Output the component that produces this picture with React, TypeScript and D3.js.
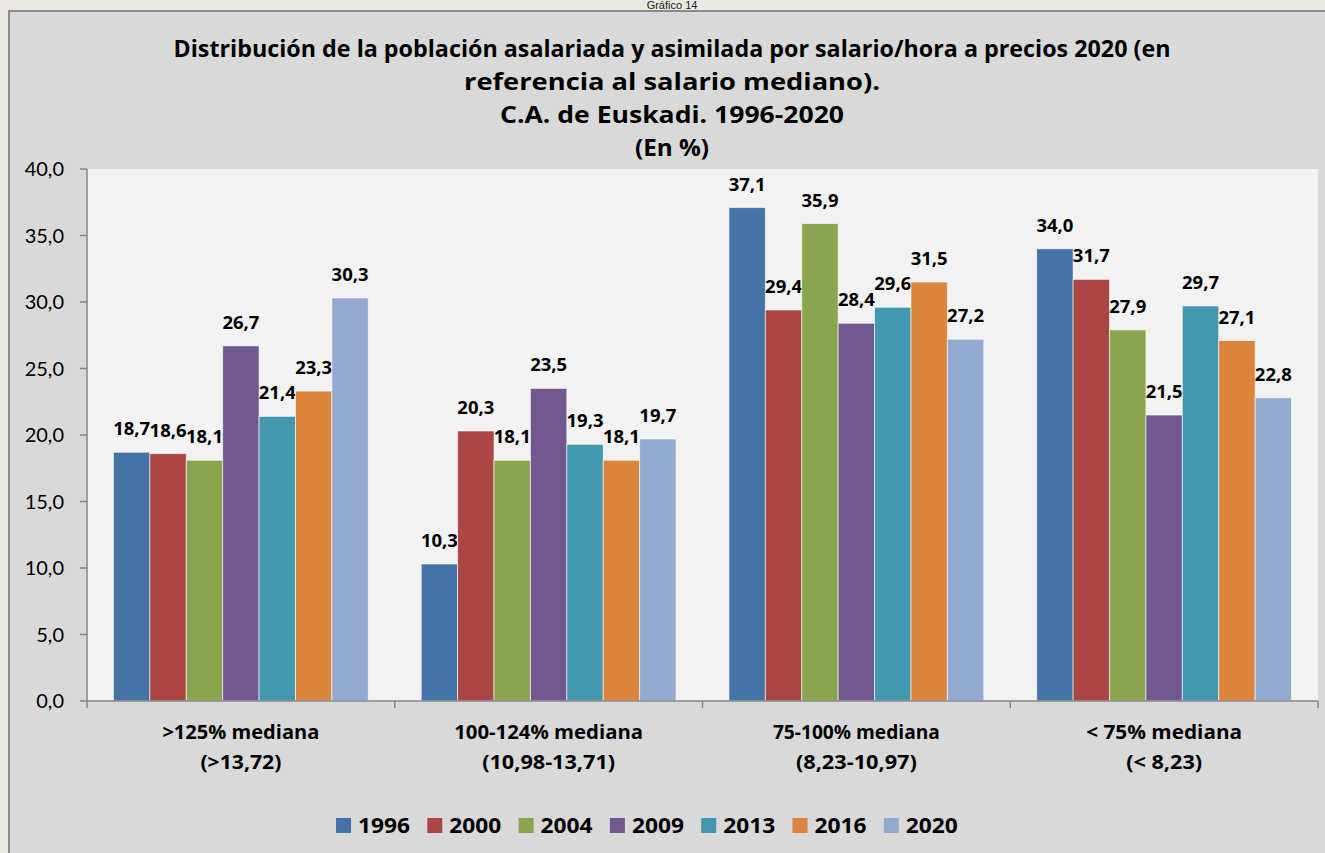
import React from "react";
import * as d3 from "d3";

const categories = [">125% mediana|(>13,72)", "100-124% mediana|(10,98-13,71)", "75-100% mediana|(8,23-10,97)", "< 75% mediana|(< 8,23)"];
const years = ["1996", "2000", "2004", "2009", "2013", "2016", "2020"];
const colors = ["#4572A7", "#AA4643", "#89A54E", "#71588F", "#4198AF", "#DB843D", "#93A9CF"];
const v1996 = [18.7, 10.3, 37.1, 34.0];
const v2000 = [18.6, 20.3, 29.4, 31.7];
const v2004 = [18.1, 18.1, 35.9, 27.9];
const v2009 = [26.7, 23.5, 28.4, 21.5];
const v2013 = [21.4, 19.3, 29.6, 29.7];
const v2016 = [23.3, 18.1, 31.5, 27.1];
const v2020 = [30.3, 19.7, 27.2, 22.8];
const series = [v1996, v2000, v2004, v2009, v2013, v2016, v2020];
const yTicks = [0, 5, 10, 15, 20, 25, 30, 35, 40];
const titleLines = [
  "Distribución de la población asalariada y asimilada por salario/hora a precios 2020 (en",
  "referencia al salario mediano).",
  "C.A. de Euskadi. 1996-2020",
  "(En %)",
];

const FONT = "Lato, 'Open Sans', sans-serif";
const BOLD = "'Open Sans', Lato, sans-serif";
const fmt = (v: number) => v.toFixed(1).replace(".", ",");

export default function App() {
  const W = 1325, H = 853;
  const left = 87, right = 1318, top = 169, bottom = 701;
  const x0 = d3.scaleBand<string>().domain(categories).range([left, right]).paddingInner(0).paddingOuter(0);
  const x1 = d3.scaleBand<string>().domain(years).range([0, x0.bandwidth()]).paddingInner(0).paddingOuter(0.727);
  const y = d3.scaleLinear().domain([0, 40]).range([bottom, top]);
  const cx = 672;
  const titleWidths = [997, 416, 344, 74];
  const catWidths1 = [157, 189, 167, 156];
  const catWidths2 = [81, 133, 121, 76];
  const legendX0 = 336, legendStep = 91.3;

  return (
    <svg width={W} height={H} style={{ position: "absolute", left: 0, top: 0 }} fontFamily={FONT}>
      <rect x={0} y={0} width={W} height={H} fill="#ebe8e2" />
      <text x={cx} y={9} textAnchor="middle" fontFamily="'Liberation Sans', Arial, sans-serif" fontSize={11} fill="#222">Gráfico 14</text>
      <rect x={9} y={11} width={W + 20} height={H + 20} fill="#d9d9d9" stroke="#8c8c8c" strokeWidth={2} />
      {titleLines.map((t, i) => (
        <text key={i} x={cx} y={57 + i * 33} textAnchor="middle" fontFamily={BOLD} fontWeight="bold" fontSize={24} fill="#000"
          textLength={titleWidths[i]} lengthAdjust="spacingAndGlyphs">{t}</text>
      ))}
      <rect x={left} y={top} width={right - left} height={bottom - top} fill="#f2f2f2" />
      {series.map((vals, si) => (
        <g key={years[si]}>
          {vals.map((v, ci) => {
            const bx = (x0(categories[ci]) as number) + (x1(years[si]) as number);
            const bw = x1.bandwidth();
            return (
              <g key={ci}>
                <rect x={bx} y={y(v)} width={bw} height={y(0) - y(v)} fill={colors[si]} stroke="#ffffff" strokeOpacity={0.6} strokeWidth={1} />
                <text x={bx + bw / 2} y={y(v) - 17} textAnchor="middle" fontFamily={BOLD} fontWeight="bold" fontSize={18} fill="#000"
                  textLength={37} lengthAdjust="spacingAndGlyphs">{fmt(v)}</text>
              </g>
            );
          })}
        </g>
      ))}
      <line x1={left} x2={left} y1={top} y2={bottom} stroke="#868686" strokeWidth={1.5} />
      {yTicks.map((t) => (
        <g key={t}>
          <line x1={left - 7} x2={left} y1={y(t)} y2={y(t)} stroke="#868686" strokeWidth={1.5} />
          <text x={64} y={y(t) + 7} textAnchor="end" fontSize={20} fill="#000">{fmt(t)}</text>
        </g>
      ))}
      <line x1={left} x2={right} y1={bottom} y2={bottom} stroke="#868686" strokeWidth={1.5} />
      {[...categories.map((c) => x0(c) as number), right].map((xx, i) => (
        <line key={i} x1={xx} x2={xx} y1={bottom} y2={bottom + 7} stroke="#868686" strokeWidth={1.5} />
      ))}
      {categories.map((c, ci) => {
        const [l1, l2] = c.split("|");
        const mx = (x0(c) as number) + x0.bandwidth() / 2;
        return (
          <g key={c}>
            <text x={mx} y={739} textAnchor="middle" fontFamily={BOLD} fontWeight="bold" fontSize={19} fill="#000"
              textLength={catWidths1[ci]} lengthAdjust="spacingAndGlyphs">{l1}</text>
            <text x={mx} y={769} textAnchor="middle" fontFamily={BOLD} fontWeight="bold" fontSize={19} fill="#000"
              textLength={catWidths2[ci]} lengthAdjust="spacingAndGlyphs">{l2}</text>
          </g>
        );
      })}
      {years.map((yr, i) => (
        <g key={yr}>
          <rect x={legendX0 + i * legendStep} y={818} width={15} height={15} fill={colors[i]} />
          <text x={legendX0 + i * legendStep + 22} y={833} fontFamily={BOLD} fontWeight="bold" fontSize={21} fill="#000"
            textLength={52} lengthAdjust="spacingAndGlyphs">{yr}</text>
        </g>
      ))}
    </svg>
  );
}
